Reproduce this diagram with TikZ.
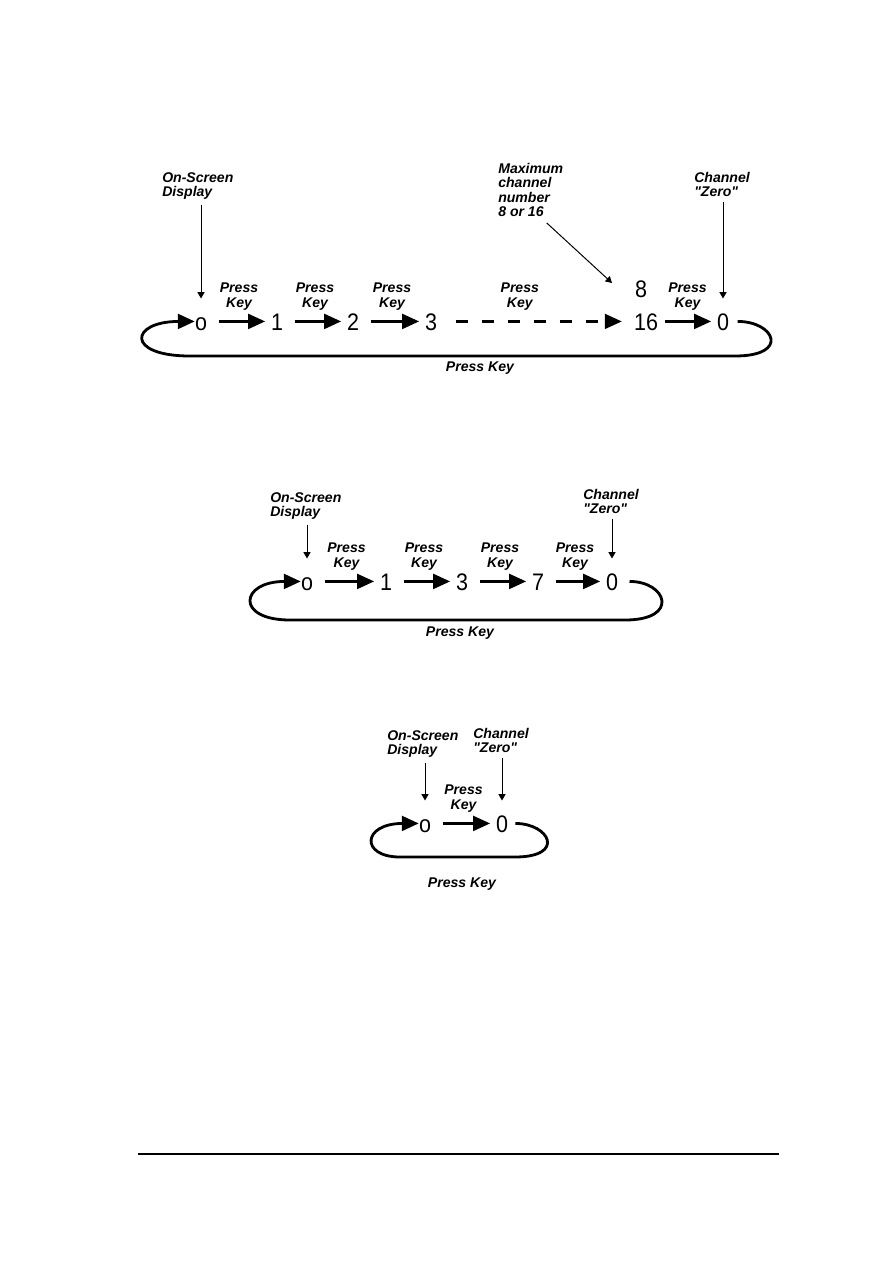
\documentclass[tikz,border=0pt]{standalone}
\usepackage{fontspec}
\setmainfont{Liberation Sans}
\newfontfamily\digitfont[FakeStretch=0.9]{Liberation Sans}
\usetikzlibrary{arrows.meta}

\begin{document}
\begin{tikzpicture}[x=0.025cm, y=-0.025cm,
  digit/.style={anchor=base, inner sep=0pt, text height=12.2pt, text depth=0pt,
    font=\digitfont\fontsize{17pt}{17pt}\selectfont},
  note/.style={anchor=north west, inner sep=0pt, align=left,
    font=\fontsize{10pt}{10.2pt}\selectfont\bfseries\itshape},
  keylabel/.style={midway, above=7pt, inner sep=0pt, align=center,
    font=\fontsize{10pt}{10.6pt}\selectfont\bfseries\itshape},
  loopnote/.style={inner sep=0pt, font=\fontsize{10pt}{12pt}\selectfont\bfseries\itshape},
  keyarrow/.style={line width=1.8pt, -{Triangle[length=12pt,width=10.5pt]},
    shorten <=8pt, shorten >=4pt},
  pointer/.style={line width=0.7pt, -{Triangle[length=4.5pt,width=5pt]},
    shorten <=3.5pt, shorten >=10pt},
  loopline/.style={line width=2pt, -{Triangle[length=12pt,width=10.5pt]}}]
  \useasboundingbox (0,0) rectangle (893,1263);

  % ---- Top: up to channel 8 or 16 ----
  \node[note] (osd1) at (162,172) {On-Screen\\Display};
  \node[note] (max1) at (498,163) {Maximum\\channel\\number\\8 or 16};
  \node[note] (ch1) at (694,172) {Channel\\\textquotedbl Zero\textquotedbl};
  \node[digit] (o1) at (201,330) {o};
  \node[digit] (n1) at (277,330) {1};
  \node[digit] (n2) at (353,330) {2};
  \node[digit] (n3) at (431,330) {3};
  \node[digit] (n16) at (646,330) {16};
  \node[digit] (n8) at (641,297) {8};
  \node[digit] (z1) at (723,330) {0};
  \coordinate (maxtip) at (612,283);
  \draw[pointer] (osd1.south -| o1) -- (o1);
  \draw[pointer] (ch1.south -| z1) -- (z1);
  \draw[pointer, shorten <=0pt, shorten >=0pt] ([shift={(16,6)}]max1.south) -- (maxtip);
  \draw[keyarrow] (o1) -- node[keylabel] {Press\\Key} (n1);
  \draw[keyarrow] (n1) -- node[keylabel] {Press\\Key} (n2);
  \draw[keyarrow] (n2) -- node[keylabel] {Press\\Key} (n3);
  \draw[keyarrow, line width=1.6pt, dash pattern=on 8.5pt off 10pt,
    shorten <=13pt, shorten >=8.5pt] (n3) -- node[keylabel, pos=0.42] {Press\\Key} (n16);
  \draw[keyarrow, shorten <=5pt] (n16) -- node[keylabel] {Press\\Key} (z1);
  \draw[loopline] ([xshift=6pt]z1.east) .. controls (775,321.5) and (790,356) .. (735,356)
    -- (190,356) .. controls (125,356) and (130,321.5) .. (o1.west);
  \node[loopnote] (loop1) at (480,368) {Press Key};

  % ---- Middle: channels 1, 3, 7 ----
  \node[note] (osd2) at (270,492) {On-Screen\\Display};
  \node[note] (ch2) at (583,489) {Channel\\\textquotedbl Zero\textquotedbl};
  \node[digit] (o2) at (307,590) {o};
  \node[digit] (m1) at (386,590) {1};
  \node[digit] (m3) at (462,590) {3};
  \node[digit] (m7) at (538,590) {7};
  \node[digit] (z2) at (612,590) {0};
  \draw[pointer] (osd2.south -| o2) -- (o2);
  \draw[pointer] (ch2.south -| z2) -- (z2);
  \draw[keyarrow] (o2) -- node[keylabel] {Press\\Key} (m1);
  \draw[keyarrow] (m1) -- node[keylabel] {Press\\Key} (m3);
  \draw[keyarrow] (m3) -- node[keylabel] {Press\\Key} (m7);
  \draw[keyarrow] (m7) -- node[keylabel] {Press\\Key} (z2);
  \draw[loopline] ([xshift=8pt]z2.east) .. controls (667,581.5) and (680,620) .. (625,620)
    -- (290,620) .. controls (235,620) and (240,581.5) .. (o2.west);
  \node[loopnote] (loop2) at (460,633) {Press Key};

  % ---- Bottom: channel zero only ----
  \node[note] (osd3) at (387,730) {On-Screen\\Display};
  \node[note] (ch3) at (473,728) {Channel\\\textquotedbl Zero\textquotedbl};
  \node[digit] (o3) at (425,832) {o};
  \node[digit] (z3) at (502,832) {0};
  \draw[pointer] (osd3.south -| o3) -- (o3);
  \draw[pointer] (ch3.south -| z3) -- (z3);
  \draw[keyarrow] (o3) -- node[keylabel] {Press\\Key} (z3);
  \draw[loopline] ([xshift=5pt]z3.east) .. controls (550,823.5) and (566,857) .. (515,857)
    -- (400,857) .. controls (360,857) and (362,823.5) .. (o3.west);
  \node[loopnote] (loop3) at (462,884) {Press Key};

  \draw[line width=1pt] (138,1154) -- (779,1154);
\end{tikzpicture}
\end{document}
